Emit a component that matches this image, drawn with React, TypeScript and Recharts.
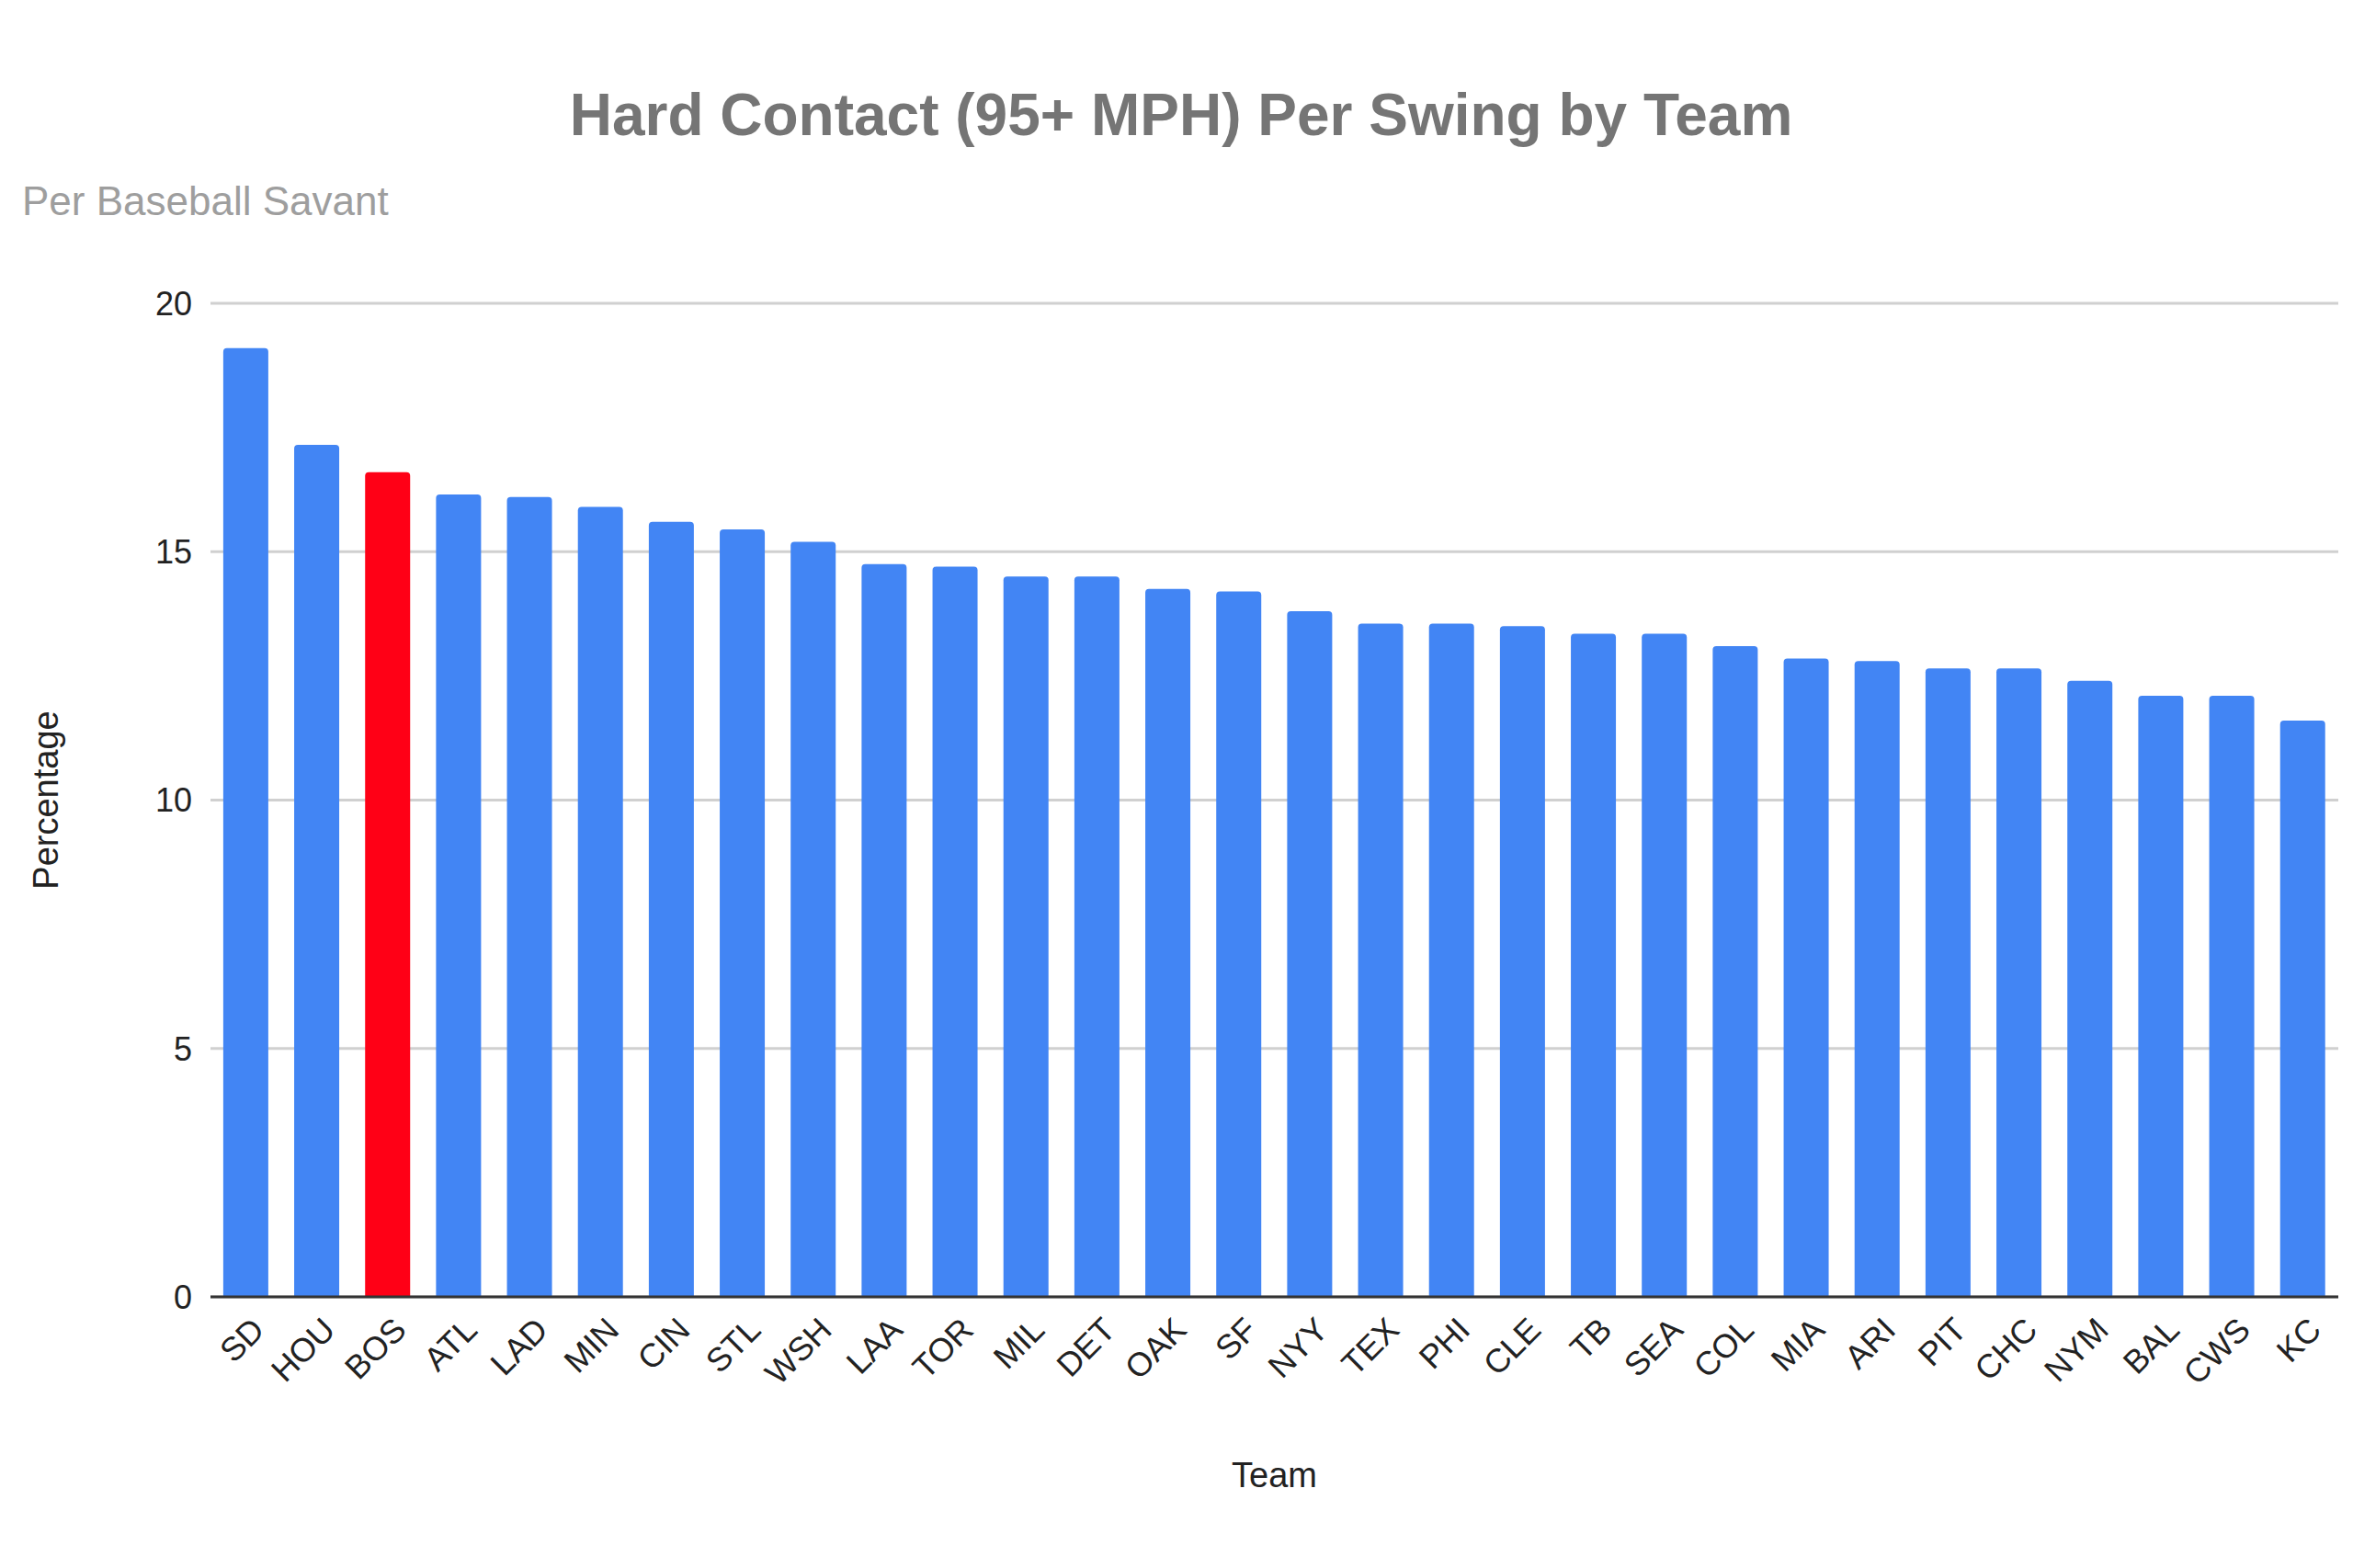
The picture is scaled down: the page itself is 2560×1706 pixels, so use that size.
import { BarChart, Bar, XAxis, YAxis, CartesianGrid, Cell, Label } from "recharts";

const teams = ["SD", "HOU", "BOS", "ATL", "LAD", "MIN", "CIN", "STL", "WSH", "LAA", "TOR", "MIL", "DET", "OAK", "SF", "NYY", "TEX", "PHI", "CLE", "TB", "SEA", "COL", "MIA", "ARI", "PIT", "CHC", "NYM", "BAL", "CWS", "KC"];
const hardContact = [19.1, 17.15, 16.6, 16.15, 16.1, 15.9, 15.6, 15.45, 15.2, 14.75, 14.7, 14.5, 14.5, 14.25, 14.2, 13.8, 13.55, 13.55, 13.5, 13.35, 13.35, 13.1, 12.85, 12.8, 12.65, 12.65, 12.4, 12.1, 12.1, 11.6];
const yTicks = [0, 5, 10, 15, 20];
const highlight = "BOS";

const data = teams.map((team, i) => ({ team, value: hardContact[i] }));
const font = "'Liberation Sans', Arial, sans-serif";

const TeamTick = ({ x, y, payload }: any) => (
    <text
        x={x + 22}
        y={y + 30}
        textAnchor="end"
        fontSize={36}
        fill="#222"
        fontFamily={font}
        transform={`rotate(-45, ${x + 22}, ${y + 30})`}
    >
        {payload.value}
    </text>
);

export default function App() {
    return (
        <div style={{ position: "absolute", left: 0, top: 0, width: 2560, height: 1706, background: "#fff", fontFamily: font }}>
            <div style={{ position: "absolute", top: 88, width: 2570, textAlign: "center", fontSize: 64, fontWeight: "bold", color: "#757575" }}>
                Hard Contact (95+ MPH) Per Swing by Team
            </div>
            <div style={{ position: "absolute", top: 194, left: 24, fontSize: 44, color: "#9e9e9e" }}>
                Per Baseball Savant
            </div>
            <div style={{ position: "absolute", left: 0, top: 0 }}>
                <BarChart
                    width={2560}
                    height={1706}
                    data={data}
                    margin={{ top: 330, right: 16, bottom: 0, left: 20 }}
                    barCategoryGap="18%"
                >
                    <CartesianGrid vertical={false} stroke="#d0d0d0" strokeWidth={3} />
                    <XAxis
                        dataKey="team"
                        interval={0}
                        height={295}
                        tick={<TeamTick />}
                        tickLine={false}
                        axisLine={{ stroke: "#333", strokeWidth: 3 }}
                    >
                        <Label value="Team" position="insideBottom" offset={88} fontSize={38} fill="#222" fontFamily={font} />
                    </XAxis>
                    <YAxis
                        domain={[0, 20]}
                        ticks={yTicks}
                        width={209}
                        tick={{ fontSize: 36, fill: "#222", fontFamily: font }}
                        tickLine={false}
                        axisLine={false}
                        tickMargin={14}
                    >
                        <Label value="Percentage" angle={-90} position="insideLeft" offset={30} fontSize={38} fill="#222" fontFamily={font} style={{ textAnchor: "middle" }} />
                    </YAxis>
                    <Bar dataKey="value" isAnimationActive={false} radius={[4, 4, 0, 0]}>
                        {data.map((d) => (
                            <Cell key={d.team} fill={d.team === highlight ? "#ff0016" : "#4285f4"} />
                        ))}
                    </Bar>
                </BarChart>
            </div>
        </div>
    );
}
